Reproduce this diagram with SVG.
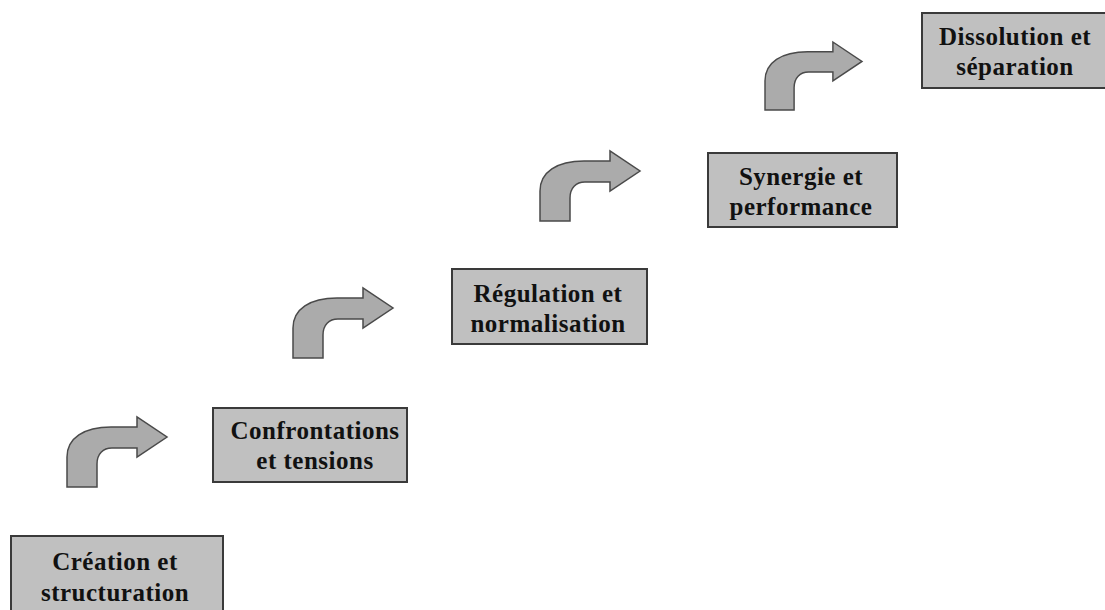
<svg xmlns="http://www.w3.org/2000/svg" width="1105" height="610" viewBox="0 0 1105 610">
<defs>
<style>
.box{fill:#c0c0c0;stroke:#3a3a3a;stroke-width:2}
.lbl{font-family:"Liberation Serif","Times New Roman",serif;font-weight:bold;font-size:25px;letter-spacing:0.5px;fill:#111;text-anchor:middle}
.arr{fill:#ababab;stroke:#4a4a4a;stroke-width:1.5;stroke-linejoin:miter}
</style>
<path id="curvedArrow" d="M0,70 L0,40 C0,21 17,10 44,10 L70,10 L70,0 L100,20 L70,40 L70,31 L45,31 C36,31 30,37 30,47 L30,70 Z"/>
</defs>
<rect width="1105" height="610" fill="#ffffff"/>
<g id="connectors">
<use href="#curvedArrow" class="arr" transform="translate(67,417)"/>
<use href="#curvedArrow" class="arr" transform="translate(293,288)"/>
<use href="#curvedArrow" class="arr" transform="translate(540,151)"/>
<use href="#curvedArrow" class="arr" transform="translate(765,42) scale(0.97,0.97)"/>
</g>
<g id="node1">
<rect class="box" x="11" y="536" width="212" height="80"/>
<text class="lbl" x="115" y="570">Création et</text>
<text class="lbl" x="115" y="601">structuration</text>
</g>
<g id="node2">
<rect class="box" x="213" y="408" width="194" height="74"/>
<text class="lbl" x="315" y="439">Confrontations</text>
<text class="lbl" x="315" y="469">et tensions</text>
</g>
<g id="node3">
<rect class="box" x="452" y="269" width="195" height="75"/>
<text class="lbl" x="548" y="302">Régulation et</text>
<text class="lbl" x="548" y="332">normalisation</text>
</g>
<g id="node4">
<rect class="box" x="708" y="153" width="189" height="74"/>
<text class="lbl" x="801" y="185">Synergie et</text>
<text class="lbl" x="801" y="215">performance</text>
</g>
<g id="node5">
<rect class="box" x="922" y="13" width="190" height="75"/>
<text class="lbl" x="1015" y="45">Dissolution et</text>
<text class="lbl" x="1015" y="75">séparation</text>
</g>
</svg>
